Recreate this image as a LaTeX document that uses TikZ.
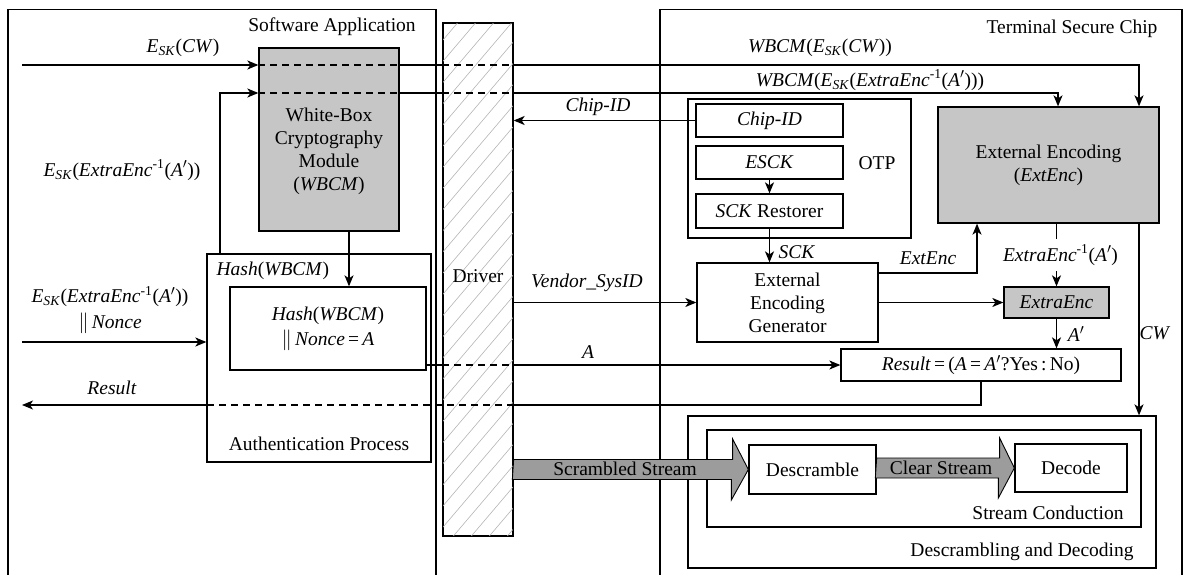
\documentclass[tikz,border=0pt]{standalone}
\usepackage{fontspec}
\setmainfont{Liberation Serif}
\usetikzlibrary{arrows.meta}
\definecolor{boxgrey}{HTML}{C6C6C6}
\definecolor{fatgrey}{HTML}{9C9C9C}
\definecolor{hatchgrey}{HTML}{B4B4B4}
\newcommand{\Esk}{\textit{E}\textsubscript{\textit{SK}}}
\newcommand{\Aprime}{\textit{A}$'$}
\newcommand{\ExInv}{\textit{ExtraEnc}\textsuperscript{-1}}

\begin{document}
\begin{tikzpicture}[
  x=1pt, y=-1pt,
  line width=1.3pt,
  every node/.style={font=\fontsize{19.5}{23}\selectfont, inner sep=0pt},
  box/.style 2 args={draw, line width=1.3pt, minimum width=#1, minimum height=#2},
  greybox/.style 2 args={box={#1}{#2}, fill=boxgrey},
  arr/.style={-{Stealth[length=11pt, width=9pt, inset=3pt]}},
  dashseg/.style={dash pattern=on 7pt off 5pt},
  hatch/.style={hatchgrey, line width=0.6pt},
  fat/.style={draw, fill=fatgrey, line width=0.9pt, line join=miter}
]

\useasboundingbox (0,0) rectangle (1185,575);

%% ==== Software Application ==========================================
\draw (8,575) -- (8,9.5) -- (436,9.5) -- (436,575);
\node (swlbl) at (332,27) {Software Application};

\node[greybox={140pt}{183pt}] (wbcm) at (329,139.5) {};
\node[align=center] (wbcmtxt) at (329,151)
  {White-Box\\Cryptography\\Module\\(\textit{WBCM})};

\node[box={224pt}{208pt}] (auth) at (319,358) {};
\node[anchor=west] (authhash) at (216,271) {\textit{Hash}(\textit{WBCM})};
\node[box={196pt}{83pt}, align=center] (hashbox) at (328,328.5)
  {\textit{Hash}(\textit{WBCM})\\[2pt]$\|$\,\textit{Nonce}\,=\,\textit{A}};
\node (authlbl) at (319,444) {Authentication Process};

\node (cwlbl) at (183,48) {\Esk(\textit{CW})};
\node (enclbl) at (122,170) {\Esk(\ExInv(\Aprime))};
\node[align=center] (noncelbl) at (110,310)
  {\Esk(\ExInv(\Aprime))\\[3pt]$\|$\,\textit{Nonce}};
\node (reslbl) at (112,388) {\textit{Result}};

%% ==== Driver ========================================================
\node[box={70pt}{513pt}] (driver) at (478,279.5) {};
\begin{scope}
  \clip (driver.north west) rectangle (driver.south east);
  \foreach \k in {0,...,29}
    \draw[hatch] ({\k*18},540) -- ({\k*18+442},20);
\end{scope}
\draw (driver.north west) rectangle (driver.south east);
\node (drvlbl) at (478,276) {Driver};

%% ==== Terminal Secure Chip ==========================================
\draw (660,575) -- (660,9.5) -- (1182,9.5) -- (1182,575);
\node (tsclbl) at (1072,29) {Terminal Secure Chip};

\node[box={223pt}{139pt}] (otp) at (799.5,168.5) {};
\node[box={147pt}{33pt}] (chipid) at (769.5,120.5) {\textit{Chip-ID}};
\node[box={147pt}{33pt}] (esck) at (769.5,162.5) {\textit{ESCK}};
\node[box={147pt}{34pt}] (sckr) at (769.5,211) {\textit{SCK} Restorer};
\node (otplbl) at (877,163) {OTP};

\node[box={181pt}{79pt}, align=center] (eeg) at (787.5,302.5)
  {External\\Encoding\\Generator};
\node[greybox={221pt}{116pt}, align=center] (ee) at (1048.5,165)
  {External Encoding\\(\textit{ExtEnc})};
\node[greybox={105pt}{31pt}] (xenc) at (1056.5,302.5) {\textit{ExtraEnc}};
\node[box={280pt}{32pt}] (result) at (981,365)
  {\textit{Result}\,=\,(\textit{A}\,=\,\Aprime?Yes\,:\,No)};

\node[box={468pt}{152pt}] (dd) at (922,492) {};
\node[box={434pt}{97pt}] (sc) at (924,478.5) {};
\node[box={127pt}{49pt}] (descr) at (812.5,469.5) {Descramble};
\node[box={112pt}{48pt}] (decode) at (1071,468) {Decode};
\node (sclbl) at (1048,513) {Stream Conduction};
\node (ddlbl) at (1022,552) {Descrambling and Decoding};

\node (wcwlbl) at (820,48) {\textit{WBCM}(\Esk(\textit{CW}))};
\node (wenclbl) at (870,80) {\textit{WBCM}(\Esk(\ExInv(\Aprime)))};
\node (chiplbl) at (598,107) {\textit{Chip-ID}};
\node (vendlbl) at (587,283) {\textit{Vendor\_SysID}};
\node (albl) at (588,352) {\textit{A}};
\node (scklbl) at (797,252) {\textit{SCK}};
\node (extlbl) at (928,258) {\textit{ExtEnc}};
\node (aprlbl) at (1076,334) {\Aprime};
\node (cwoutlbl) at (1155,333) {\textit{CW}};

%% ==== connectors ====================================================
\coordinate (cwin) at (22,65);
\coordinate (cwturn) at (1139,65);
\coordinate (encturn) at (220,93);
\coordinate (encdown) at (1058,93);
\coordinate (hashin) at ([xshift=20pt]wbcm.south);
\coordinate (noncein) at (22,342);
\coordinate (resturn) at (981,405);
\coordinate (resout) at (22,405);
\coordinate (extturn) at (977,273);

% E_SK(CW)
\draw[arr] (cwin) -- (cwin -| wbcm.west);
\draw[dashseg] (cwin -| wbcm.west) -- (cwin -| wbcm.east);
\draw (cwin -| wbcm.east) -- (cwin -| driver.west);
\draw[dashseg] (cwin -| driver.west) -- (cwin -| driver.east);
\draw[arr] (cwin -| driver.east) -- (cwturn) -- (cwturn |- ee.north);

% E_SK(ExtraEnc^-1(A'))
\draw[arr] (encturn |- auth.north) -- (encturn) -- (encturn -| wbcm.west);
\draw[dashseg] (encturn -| wbcm.west) -- (encturn -| wbcm.east);
\draw (encturn -| wbcm.east) -- (encturn -| driver.west);
\draw[dashseg] (encturn -| driver.west) -- (encturn -| driver.east);
\draw[arr] (encturn -| driver.east) -- (encdown) -- (encdown |- ee.north);

\draw[arr] (hashin) -- (hashin |- hashbox.north);
\draw[arr] (noncein) -- (noncein -| auth.west);

% A
\draw (hashbox.east |- result.west) -- (driver.west |- result.west);
\draw[dashseg] (driver.west |- result.west) -- (driver.east |- result.west);
\draw[arr] (driver.east |- result.west) -- (result.west);

% Result
\draw (result.south) -- (resturn) -- (resturn -| driver.east);
\draw[dashseg] (resturn -| driver.east) -- (resturn -| auth.west);
\draw[arr] (resturn -| auth.west) -- (resout);

\draw[arr] (chipid.west) -- (chipid.west -| driver.east);
\draw[arr] (esck.south) -- (sckr.north);
\draw[arr] (sckr.south) -- (sckr.south |- eeg.north);
\draw[arr] (driver.east |- eeg.west) -- (eeg.west);
\draw[arr] (eeg.east |- xenc.west) -- (xenc.west);
\draw[arr] (eeg.east |- extturn) -- (extturn) -- (extturn |- ee.south);
\draw[arr] (xenc.north |- ee.south) -- (xenc.north)
  node[midway, xshift=4pt, fill=white, inner xsep=1pt, inner ysep=6pt] (invlbl)
  {\ExInv(\Aprime)};
\draw[arr] (xenc.south) -- (xenc.south |- result.north);
\draw[arr] (cwturn |- ee.south) -- (cwturn |- dd.north);

% streams
\draw[fat] (driver.east |- descr.west) ++(0,-10) -- ++(219,0) -- ++(0,-20.5)
  -- (descr.west) -- ++(-17,30.5) -- ++(0,-20.5) -- ++(-219,0) -- cycle;
\node (scrlbl) at (625,469) {Scrambled Stream};
\draw[fat] (descr.east |- decode.west) ++(0,-10) -- ++(123,0) -- ++(0,-20)
  -- (decode.west) -- ++(-16,30) -- ++(0,-20) -- ++(-123,0) -- cycle;
\node (clrlbl) at (941,468) {Clear Stream};

\end{tikzpicture}
\end{document}
